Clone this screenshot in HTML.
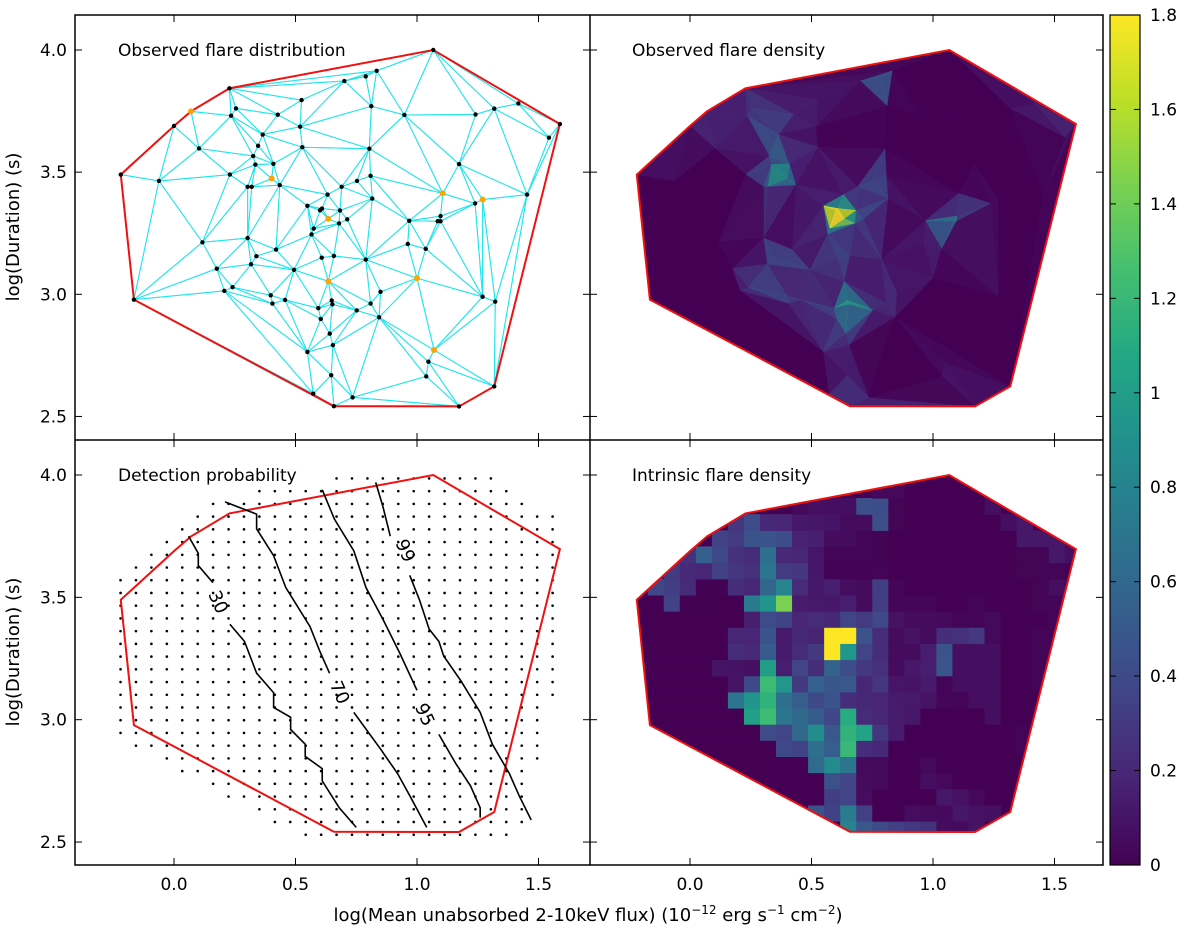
<!DOCTYPE html>
<html><head><meta charset="utf-8"><style>
body{margin:0;background:#fff;}
svg text{font-family:"DejaVu Sans","Liberation Sans",sans-serif;fill:#000;}
</style></head><body>
<svg id="fig" width="1200" height="932" viewBox="0 0 1200 932" xmlns="http://www.w3.org/2000/svg">
<defs>
<clipPath id="c00"><rect x="75" y="15" width="515" height="425"/></clipPath>
<clipPath id="c01"><rect x="590" y="15" width="513" height="425"/></clipPath>
<clipPath id="c10"><rect x="75" y="440" width="515" height="425"/></clipPath>
<clipPath id="c11"><polygon id="hullclip" points=""/></clipPath>
<linearGradient id="vir" x1="0" y1="1" x2="0" y2="0"></linearGradient>
</defs>
<g id="g00" clip-path="url(#c00)"></g>
<g id="g01" clip-path="url(#c01)"></g>
<g id="g10" clip-path="url(#c10)"></g>
<g id="g11"><g id="g11c" clip-path="url(#c11)"></g></g>
<g id="frames">
<rect x="75" y="15" width="1028" height="850" fill="none" stroke="#000" stroke-width="1.5"/>
<line x1="590" y1="15" x2="590" y2="865" stroke="#000" stroke-width="1.5"/>
<line x1="75" y1="440" x2="1103" y2="440" stroke="#000" stroke-width="1.5"/>
</g>
<g id="ticks"></g>
<text x="118" y="56" font-size="17">Observed flare distribution</text>
<text x="632" y="56" font-size="17">Observed flare density</text>
<text x="118" y="481" font-size="17">Detection probability</text>
<text x="632" y="481" font-size="17">Intrinsic flare density</text>
<text transform="translate(19,227) rotate(-90)" text-anchor="middle" font-size="18">log(Duration) (s)</text>
<text transform="translate(19,652) rotate(-90)" text-anchor="middle" font-size="18">log(Duration) (s)</text>
<text x="588" y="921" text-anchor="middle" font-size="18">log(Mean unabsorbed 2-10keV flux) (10<tspan font-size="12" dy="-7">−12</tspan><tspan dy="7"> erg s</tspan><tspan font-size="12" dy="-7">−1</tspan><tspan dy="7"> cm</tspan><tspan font-size="12" dy="-7">−2</tspan><tspan dy="7">)</tspan></text>
<rect x="1110" y="15" width="30" height="850" fill="url(#vir)" stroke="#000" stroke-width="1.2"/>
<g id="cbticks"></g>
</svg>
<script>
const ptsX=[1.067,0.228,-0.219,-0.165,0.658,1.173,1.318,1.588,1.417,0.0,0.070,0.701,0.789,0.834,0.525,0.255,0.235,0.427,0.519,0.812,0.948,1.241,1.318,1.543,0.365,0.346,0.103,0.326,0.335,0.409,0.528,0.804,1.173,-0.062,0.230,0.402,0.303,0.320,0.435,0.690,0.753,0.809,0.632,0.816,1.106,1.270,1.239,1.453,0.549,0.601,0.609,0.683,0.635,0.713,0.679,0.968,1.097,1.085,1.097,0.575,0.566,0.117,0.303,0.962,1.036,0.420,0.339,0.608,0.658,0.789,0.176,0.317,0.494,0.635,1.000,0.207,0.241,0.398,0.405,0.457,0.649,0.652,0.594,0.752,0.809,0.850,0.844,1.270,1.322,0.604,0.641,0.654,0.549,1.070,1.047,1.038,0.647,0.573,0.735];
const ptsY=[4.0,3.843,3.490,2.978,2.542,2.541,2.623,3.697,3.781,3.689,3.749,3.873,3.892,3.915,3.795,3.761,3.731,3.735,3.686,3.770,3.734,3.736,3.760,3.641,3.654,3.608,3.597,3.566,3.531,3.534,3.602,3.596,3.533,3.464,3.490,3.474,3.440,3.440,3.447,3.440,3.464,3.485,3.408,3.392,3.413,3.388,3.372,3.408,3.362,3.344,3.351,3.343,3.309,3.307,3.290,3.301,3.320,3.299,3.299,3.269,3.245,3.213,3.230,3.206,3.186,3.183,3.156,3.150,3.157,3.142,3.105,3.123,3.100,3.053,3.066,3.014,3.029,2.996,2.962,2.977,2.975,2.959,2.943,2.934,2.962,3.010,2.906,2.990,2.970,2.899,2.839,2.792,2.764,2.772,2.724,2.664,2.669,2.593,2.578];
const orangeIdx=[10,35,44,45,52,73,74,93];
const c30X=[0.06,0.10,0.10,0.16,null,0.23,0.29,0.34,0.41,0.41,0.48,0.48,0.54,0.54,0.61,0.61,0.68,0.75];
const c30Y=[3.75,3.68,3.63,3.56,null,3.39,3.32,3.19,3.11,3.05,3.01,2.96,2.90,2.85,2.80,2.75,2.64,2.56];
const c70X=[0.21,0.34,0.34,0.41,0.46,0.56,0.60,0.64,null,0.74,0.85,0.92,0.97,1.04];
const c70Y=[3.89,3.84,3.78,3.67,3.54,3.38,3.28,3.19,null,3.03,2.88,2.78,2.69,2.56];
const c95X=[0.61,0.66,0.74,0.79,0.86,0.93,1.00,null,1.09,1.16,1.22,1.26,1.26];
const c95Y=[3.94,3.82,3.69,3.54,3.41,3.27,3.12,null,2.94,2.82,2.73,2.64,2.60];
const c99X=[0.83,0.86,0.89,null,0.97,1.01,1.05,1.09,1.11,1.18,1.26,1.31,1.38,1.42,1.47];
const c99Y=[3.97,3.87,3.75,null,3.59,3.49,3.37,3.32,3.26,3.16,3.03,2.90,2.78,2.69,2.59];
const contourLabels=["30","70","95","99"];
const labelX=[0.18,0.68,1.03,0.95];
const labelY=[3.48,3.11,3.02,3.69];
const probLevels=[0.12,0.30,0.70,0.95,0.99,1.0];
const probS=[0.30,0.72,1.07,1.35,1.60,1.9];
const xTicks=[0.0,0.5,1.0,1.5];
const yTicks=[2.5,3.0,3.5,4.0];
const cbTicks=[0,0.2,0.4,0.6,0.8,1,1.2,1.4,1.6,1.8];
const VMAX=1.8;

const NS="http://www.w3.org/2000/svg";
function X(x,c){return 174+c*516+x*243;}
function Y(y,r){return r===0?50+(4-y)*244.3:475+(4-y)*244.7;}
function mk(tag,attrs,parent){const e=document.createElementNS(NS,tag);for(const k in attrs)e.setAttribute(k,attrs[k]);parent.appendChild(e);return e;}
const VIR=[[68,1,84],[72,36,117],[65,68,135],[53,95,141],[42,120,142],[33,144,141],[34,168,132],[68,191,112],[122,209,81],[189,223,38],[253,231,37]];
function vir(t){t=Math.max(0,Math.min(1,t));const f=t*10,i=Math.min(9,Math.floor(f)),u=f-i;const a=VIR[i],b=VIR[i+1];return`rgb(${Math.round(a[0]+(b[0]-a[0])*u)},${Math.round(a[1]+(b[1]-a[1])*u)},${Math.round(a[2]+(b[2]-a[2])*u)})`;}
const grad=document.getElementById('vir');
VIR.forEach((c,i)=>mk('stop',{offset:(i*10)+'%','stop-color':`rgb(${c})`},grad));

const N=ptsX.length;
const P=ptsX.map((x,i)=>[x,ptsY[i]]);
function circ(a,b,c){const ax=a[0],ay=a[1],bx=b[0],by=b[1],cx=c[0],cy=c[1];const d=2*(ax*(by-cy)+bx*(cy-ay)+cx*(ay-by));const ux=((ax*ax+ay*ay)*(by-cy)+(bx*bx+by*by)*(cy-ay)+(cx*cx+cy*cy)*(ay-by))/d;const uy=((ax*ax+ay*ay)*(cx-bx)+(bx*bx+by*by)*(ax-cx)+(cx*cx+cy*cy)*(bx-ax))/d;return[ux,uy,(ax-ux)**2+(ay-uy)**2];}
const V=P.slice();V.push([-20,-20],[20,-20],[0,30]);
let tris=[[N,N+1,N+2]];tris[0].c=circ(V[N],V[N+1],V[N+2]);
for(let i=0;i<N;i++){const p=V[i];const bad=[],keep=[];for(const t of tris){const c=t.c;((p[0]-c[0])**2+(p[1]-c[1])**2<c[2])?bad.push(t):keep.push(t);}
const ec={};for(const t of bad){for(let k=0;k<3;k++){const a=t[k],b=t[(k+1)%3];const key=a<b?a+'_'+b:b+'_'+a;ec[key]=(ec[key]||{n:0,a,b});ec[key].n++;}}
tris=keep;for(const k in ec){if(ec[k].n===1){const t=[ec[k].a,ec[k].b,i];t.c=circ(V[t[0]],V[t[1]],V[t[2]]);tris.push(t);}}}
tris=tris.filter(t=>t[0]<N&&t[1]<N&&t[2]<N);
function area(t){const a=P[t[0]],b=P[t[1]],c=P[t[2]];return Math.abs((b[0]-a[0])*(c[1]-a[1])-(c[0]-a[0])*(b[1]-a[1]))/2;}
const W=new Array(N).fill(0);tris.forEach(t=>{const A=area(t);t.A=A;t.forEach(i=>W[i]+=A);});
const dens=W.map(w=>3/w/N);
tris.forEach(t=>{const raw=(dens[t[0]]+dens[t[1]]+dens[t[2]])/3;t.v=Math.max(0,raw-0.3)*0.45;});
const idx=[...Array(N).keys()].sort((a,b)=>P[a][0]-P[b][0]||P[a][1]-P[b][1]);
function cr(o,a,b){return(P[a][0]-P[o][0])*(P[b][1]-P[o][1])-(P[a][1]-P[o][1])*(P[b][0]-P[o][0]);}
const lo=[],up=[];for(const i of idx){while(lo.length>1&&cr(lo[lo.length-2],lo[lo.length-1],i)<=0)lo.pop();lo.push(i);}
for(const i of idx.slice().reverse()){while(up.length>1&&cr(up[up.length-2],up[up.length-1],i)<=0)up.pop();up.push(i);}
const hull=lo.slice(0,-1).concat(up.slice(0,-1));
function hullPts(c,r){return hull.map(i=>X(P[i][0],c)+','+Y(P[i][1],r)).join(' ');}
function triPts(t,c,r){return t.map(i=>X(P[i][0],c)+','+Y(P[i][1],r)).join(' ');}

const g00=document.getElementById('g00');
tris.forEach(t=>{const e=mk('polygon',{points:triPts(t,0,0),fill:'none',stroke:'#22e5ee','stroke-width':1},g00);

});
const h0=mk('polygon',{points:hullPts(0,0),fill:'none',stroke:'#f01010','stroke-width':2},g00);

P.forEach((p,i)=>{const o=orangeIdx.includes(i);const e=mk('circle',{cx:X(p[0],0),cy:Y(p[1],0),r:o?3:2.2,fill:o?'#ffa500':'#000'},g00);

});

const g01=document.getElementById('g01');
mk('polygon',{points:hullPts(1,0),fill:vir(0)},g01);
tris.forEach(t=>{const col=vir(t.v/VMAX);const e=mk('polygon',{points:triPts(t,1,0),fill:col,'fill-opacity':0.85,stroke:col,'stroke-width':0.4},g01);

});
const h1=mk('polygon',{points:hullPts(1,0),fill:'none',stroke:'#f01010','stroke-width':2},g01);


function inPoly(x,y,poly){let ins=false;for(let i=0,j=poly.length-1;i<poly.length;j=i++){const xi=poly[i][0],yi=poly[i][1],xj=poly[j][0],yj=poly[j][1];if(((yi>y)!=(yj>y))&&(x<(xj-xi)*(y-yi)/(yj-yi)+xi))ins=!ins;}return ins;}
const hullP=hull.map(i=>P[i]);
const cx0=hullP.reduce((s,p)=>s+p[0],0)/hullP.length,cy0=hullP.reduce((s,p)=>s+p[1],0)/hullP.length;
const hullBig=hullP.map(p=>[cx0+(p[0]-cx0)*1.14,cy0+(p[1]-cy0)*1.12]);

const g10=document.getElementById('g10');
for(let y=2.53;y<=4.02;y+=0.052){for(let x=-0.22;x<=1.62;x+=0.0635){if(inPoly(x,y,hullBig)){const e=mk('circle',{cx:X(x,0),cy:Y(y,1),r:1.3,fill:'#000'},g10);

}}}
const h2=mk('polygon',{points:hullPts(0,1),fill:'none',stroke:'#f01010','stroke-width':2},g10);

[[c30X,c30Y],[c70X,c70Y],[c95X,c95Y],[c99X,c99Y]].forEach((c,k)=>{let d='';let mv=true;for(let i=0;i<c[0].length;i++){if(c[0][i]===null){mv=true;continue;}d+=(mv?'M':'L')+X(c[0][i],0)+','+Y(c[1][i],1);mv=false;}
const e=mk('path',{d:d,fill:'none',stroke:'#000','stroke-width':1.6},g10);


const t=mk('text',{x:0,y:0,'font-size':18,'text-anchor':'middle','dominant-baseline':'central',transform:`translate(${X(labelX[k],0)},${Y(labelY[k],1)}) rotate(66)`},g10);t.textContent=contourLabels[k];

});

function prob(x,y){const s=x+0.58*(y-2.5);if(s<=probS[0])return probLevels[0];for(let i=1;i<probS.length;i++){if(s<=probS[i]){const u=(s-probS[i-1])/(probS[i]-probS[i-1]);return probLevels[i-1]+u*(probLevels[i]-probLevels[i-1]);}}return 1;}
function triAt(x,y){for(const t of tris){const a=P[t[0]],b=P[t[1]],c=P[t[2]];if(inPoly(x,y,[a,b,c]))return t;}return null;}
document.getElementById('hullclip').setAttribute('points',hullPts(1,1));
const g11=document.getElementById('g11c');
mk('polygon',{points:hullPts(1,1),fill:vir(0)},g11);
const dc=0.066,dr=0.066;
for(let y=2.52;y<4.05;y+=dr){for(let x=-0.24;x<1.62;x+=dc){const mx=x+dc/2,my=y+dr/2;const t=triAt(mx,my);if(!t)continue;const v=Math.min(VMAX,t.v*0.85/prob(mx,my));
const col=vir(v/VMAX);const e=mk('rect',{x:X(x,1),y:Y(y+dr,1),width:dc*243+0.6,height:dr*244.7+0.6,fill:col},g11);

}}
const h3=mk('polygon',{points:hullPts(1,1),fill:'none',stroke:'#f01010','stroke-width':2},document.getElementById('g11'));


const tg=document.getElementById('ticks');
for(let r=0;r<2;r++){for(let c=0;c<2;c++){
 xTicks.forEach(v=>{const x=X(v,c);const top=r===0?15:440,bot=r===0?440:865;mk('line',{x1:x,y1:bot,x2:x,y2:bot-7,stroke:'#000'},tg);mk('line',{x1:x,y1:top,x2:x,y2:top+7,stroke:'#000'},tg);});
 yTicks.forEach(v=>{const y=Y(v,r);const l=c===0?75:590,rr=c===0?590:1103;mk('line',{x1:l,y1:y,x2:l+7,y2:y,stroke:'#000'},tg);mk('line',{x1:rr,y1:y,x2:rr-7,y2:y,stroke:'#000'},tg);});
}}
for(let c=0;c<2;c++)xTicks.forEach(v=>{const t=mk('text',{x:X(v,c),y:890,'font-size':17,'text-anchor':'middle'},tg);t.textContent=v.toFixed(1);

});
for(let r=0;r<2;r++)yTicks.forEach(v=>{const t=mk('text',{x:67,y:Y(v,r)+6,'font-size':17,'text-anchor':'end'},tg);t.textContent=v.toFixed(1);

});
const cg=document.getElementById('cbticks');
cbTicks.forEach(v=>{const y=865-v/VMAX*850;mk('line',{x1:1140,y1:y,x2:1134,y2:y,stroke:'#000'},cg);mk('line',{x1:1110,y1:y,x2:1116,y2:y,stroke:'#000'},cg);
const t=mk('text',{x:1150,y:y+6,'font-size':17},cg);t.textContent=String(v);

});
</script>
</body></html>
